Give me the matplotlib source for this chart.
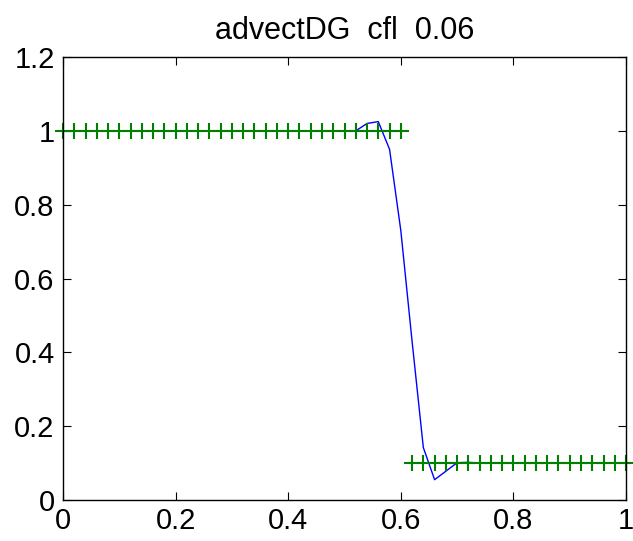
"""
advectDG 结果复现：DG 数值解 (蓝线) 与精确解 (绿色 +)。
"""
import matplotlib
matplotlib.use("Agg")
import matplotlib.pyplot as plt
import numpy as np

# 精确解：网格 0..1，步长 0.02，x<=0.6 为 1，之后为 0.1
x_exact = np.linspace(0, 1, 51)
u_exact = [1.0] * 31 + [0.1] * 20

# 数值解
x_num = [0.00, 0.50, 0.52, 0.54, 0.56, 0.58, 0.60, 0.62, 0.64, 0.66,
         0.68, 0.70, 0.72, 0.74, 1.00]
u_num = [1.00, 1.00, 1.00, 1.02, 1.025, 0.95, 0.73, 0.43, 0.142, 0.055,
         0.078, 0.101, 0.102, 0.10, 0.10]

xticks = [0, 0.2, 0.4, 0.6, 0.8, 1.0]
xticklabels = ["0", "0.2", "0.4", "0.6", "0.8", "1"]
yticks = [0, 0.2, 0.4, 0.6, 0.8, 1.0, 1.2]
yticklabels = ["0", "0.2", "0.4", "0.6", "0.8", "1", "1.2"]

plt.rcParams["font.family"] = ["Liberation Sans", "DejaVu Sans"]

fig = plt.figure(figsize=(6.33, 5.41), dpi=100)
ax = fig.add_axes([0.0995, 0.0758, 0.8895, 0.8188])

ax.plot(x_num, u_num, color="#0000ff", lw=1.0)
ax.plot(x_exact, u_exact, linestyle="none", marker="+", color="#008000",
        markersize=12, markeredgewidth=1.5, clip_on=False)

ax.set_xlim(0, 1)
ax.set_ylim(0, 1.2)
ax.set_xticks(xticks)
ax.set_xticklabels(xticklabels)
ax.set_yticks(yticks)
ax.set_yticklabels(yticklabels)
ax.tick_params(direction="in", length=6, width=0.8, labelsize=21,
               top=True, right=True)
ax.tick_params(axis="y", pad=6)
ax.tick_params(axis="x", pad=5)
for s in ax.spines.values():
    s.set_linewidth(1.0)

ax.set_title("advectDG  cfl  0.06", fontsize=22, pad=13)

fig.savefig("out.png", dpi=100)
plt.close(fig)
